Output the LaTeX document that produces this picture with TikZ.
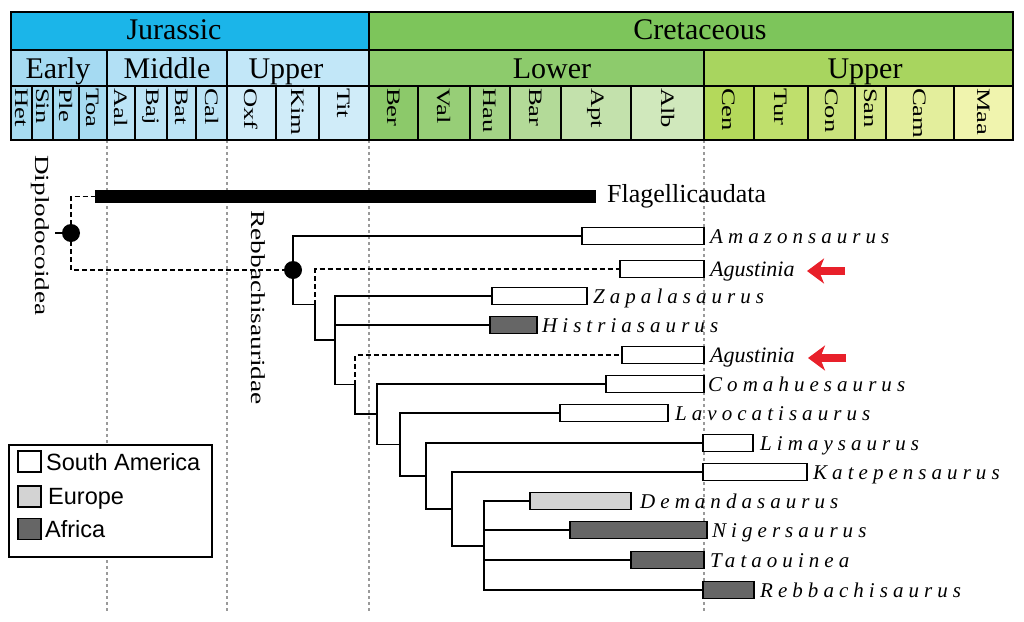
\documentclass[tikz,border=0pt]{standalone}
\usepackage{fontspec}
\usepackage{graphicx}
\setmainfont{Liberation Serif}
\newfontfamily\legendfont{Liberation Sans}
\newfontfamily\taxfont[LetterSpace=24]{Liberation Serif}
\usetikzlibrary{arrows.meta}
\newcommand{\setfs}[1]{\fontsize{#1}{#1}\selectfont}
\newcommand{\stretchtxt}[2]{\scalebox{#1}[1]{#2}}
\definecolor{jur}{HTML}{1BB5E9}
\definecolor{epE}{HTML}{A5DAF2}
\definecolor{epM}{HTML}{B2E0F5}
\definecolor{epU}{HTML}{C2E7F8}
\definecolor{stE}{HTML}{A7DBF1}
\definecolor{stM}{HTML}{BCE4F6}
\definecolor{stU}{HTML}{D0ECF9}
\definecolor{cre}{HTML}{7DC55B}
\definecolor{epL}{HTML}{8DCB6C}
\definecolor{epK}{HTML}{A8D55F}
\definecolor{sBer}{HTML}{8CC96A}
\definecolor{sVal}{HTML}{97CE77}
\definecolor{sHau}{HTML}{A3D386}
\definecolor{sBar}{HTML}{B3DA98}
\definecolor{sApt}{HTML}{C3E1AC}
\definecolor{sAlb}{HTML}{D0E8BC}
\definecolor{sCen}{HTML}{B4D95B}
\definecolor{sTur}{HTML}{BFDF6C}
\definecolor{sCon}{HTML}{CAE37D}
\definecolor{sSan}{HTML}{D5E88C}
\definecolor{sCam}{HTML}{E3EE9C}
\definecolor{sMaa}{HTML}{F0F4AE}
\definecolor{eugray}{HTML}{D3D3D3}
\definecolor{afgray}{HTML}{666666}
\definecolor{arrowred}{HTML}{E8202A}
\definecolor{gridgray}{HTML}{9A9A9A}
\tikzset{
  hdr/.style={draw=black, line width=1.5pt},
  hdrlbl/.style={anchor=base, inner sep=0pt, font=\setfs{30}},
  stagelbl/.style={rotate=-90, anchor=west, inner sep=0pt, font=\setfs{19}},
  cladelbl/.style={rotate=-90, anchor=west, inner sep=0pt, font=\setfs{20}},
  gridline/.style={draw=gridgray, line width=1.5pt, dash pattern=on 3pt off 3pt},
  tree/.style={line width=1.8pt},
  dashline/.style={line width=1.8pt, dash pattern=on 5pt off 3pt},
  rng/.style={draw=black, line width=1.8pt, minimum height=17pt, inner sep=0pt, outer sep=0pt, anchor=west},
  sa/.style={rng, fill=white},
  eu/.style={rng, fill=eugray},
  af/.style={rng, fill=afgray},
  taxlbl/.style={anchor=base west, inner sep=0pt, font=\setfs{21}\taxfont\itshape},
  aguslbl/.style={anchor=base west, inner sep=0pt, font=\setfs{22}\itshape},
  dot/.style={circle, fill=black, minimum size=18pt, inner sep=0pt},
  redarrow/.style={draw=arrowred, line width=8pt, -{Stealth[length=17pt, width=25pt, inset=5pt]}},
  legendtxt/.style={anchor=base west, inner sep=0pt, font=\setfs{23.5}\legendfont},
}
\newcommand{\stg}[5]{%
  \filldraw[hdr, fill=#4] (#2,86) rectangle (#3,140);
  \node[stagelbl] (#1) at ({(#2+#3)/2},88) {\stretchtxt{1.4}{#5}};
}
\begin{document}
\begin{tikzpicture}[x=1pt,y=-1pt]
\useasboundingbox (0,0) rectangle (1024,621);

% grid lines
\foreach \gx/\gn in {107/a,227/b,369/c,704/d}{
  \coordinate (gt\gn) at (\gx,140);
  \coordinate (gb\gn) at (\gx,612);
  \draw[gridline] (gt\gn) -- (gb\gn);
}

% header: periods
\filldraw[hdr, fill=jur] (11,12) rectangle (369,50);
\filldraw[hdr, fill=cre] (369,12) rectangle (1013,50);
\node[hdrlbl] (jurassic) at (174,39) {Jurassic};
\node[hdrlbl] (cretaceous) at (700,39) {Cretaceous};
% epochs
\filldraw[hdr, fill=epE] (11,50) rectangle (107,86);
\filldraw[hdr, fill=epM] (107,50) rectangle (227,86);
\filldraw[hdr, fill=epU] (227,50) rectangle (369,86);
\filldraw[hdr, fill=epL] (369,50) rectangle (704,86);
\filldraw[hdr, fill=epK] (704,50) rectangle (1013,86);
\node[hdrlbl] (early) at (58,78) {Early};
\node[hdrlbl] (middle) at (167,78) {Middle};
\node[hdrlbl] (upperJ) at (286,78) {Upper};
\node[hdrlbl] (lower) at (552,78) {Lower};
\node[hdrlbl] (upperK) at (865,78) {Upper};
% stages
\stg{het}{11}{32}{stE}{Het}
\stg{sin}{32}{53}{stE}{Sin}
\stg{ple}{53}{79}{stE}{Ple}
\stg{toa}{79}{107}{stE}{Toa}
\stg{aal}{107}{135}{stM}{Aal}
\stg{baj}{135}{167}{stM}{Baj}
\stg{bat}{167}{196}{stM}{Bat}
\stg{cal}{196}{227}{stM}{Cal}
\stg{oxf}{227}{276}{stU}{Oxf}
\stg{kim}{276}{319}{stU}{Kim}
\stg{tit}{319}{369}{stU}{Tit}
\stg{ber}{369}{418}{sBer}{Ber}
\stg{val}{418}{470}{sVal}{Val}
\stg{hau}{470}{510}{sHau}{Hau}
\stg{bar}{510}{561}{sBar}{Bar}
\stg{apt}{561}{631}{sApt}{Apt}
\stg{alb}{631}{704}{sAlb}{Alb}
\stg{cen}{704}{754}{sCen}{Cen}
\stg{tur}{754}{808}{sTur}{Tur}
\stg{con}{808}{855}{sCon}{Con}
\stg{san}{855}{886}{sSan}{San}
\stg{cam}{886}{954}{sCam}{Cam}
\stg{maa}{954}{1013}{sMaa}{Maa}

% clade labels
\node[cladelbl] (diplo) at (40,155) {\stretchtxt{1.36}{Diplodocoidea}};
\node[cladelbl] (rebbL) at (258,210) {\stretchtxt{1.37}{Rebbachisauridae}};

% Flagellicaudata bar
\node[fill=black, minimum width=501pt, minimum height=13pt, inner sep=0pt, outer sep=0pt, anchor=west] (flag) at (95,196.5) {};
\node[anchor=base west, inner sep=0pt, font=\setfs{26}] (flagL) at ([xshift=11pt,yshift=-5.5pt]flag.east) {Flagellicaudata};

% range boxes
\node[sa, minimum width=122pt] (amaz) at (582,236) {};
\node[sa, minimum width=84pt]  (agus1) at (620,269) {};
\node[sa, minimum width=95pt]  (zap) at (492,296) {};
\node[af, minimum width=47pt]  (hist) at (490,325) {};
\node[sa, minimum width=82pt]  (agus2) at (622,355) {};
\node[sa, minimum width=98pt]  (coma) at (606,384) {};
\node[sa, minimum width=108pt] (lav) at (560,413) {};
\node[sa, minimum width=50pt]  (lim) at (703,443) {};
\node[sa, minimum width=104pt] (kate) at (703,472) {};
\node[eu, minimum width=101pt] (dem) at (530,501) {};
\node[af, minimum width=137pt] (nig) at (570,530) {};
\node[af, minimum width=73pt]  (tat) at (631,560) {};
\node[af, minimum width=51pt]  (reb) at (703,590) {};

% taxon labels
\node[taxlbl] (amazL) at ([xshift=6pt,yshift=-7pt]amaz.east) {Amazonsaurus};
\node[aguslbl] (agus1L) at ([xshift=6pt,yshift=-7pt]agus1.east) {Agustinia};
\node[taxlbl] (zapL) at ([xshift=6pt,yshift=-7pt]zap.east) {Zapalasaurus};
\node[taxlbl] (histL) at ([xshift=5pt,yshift=-7pt]hist.east) {Histriasaurus};
\node[aguslbl] (agus2L) at ([xshift=6pt,yshift=-7pt]agus2.east) {Agustinia};
\node[taxlbl] (comaL) at ([xshift=4pt,yshift=-7pt]coma.east) {Comahuesaurus};
\node[taxlbl] (lavL) at ([xshift=7pt,yshift=-7pt]lav.east) {Lavocatisaurus};
\node[taxlbl] (limL) at ([xshift=7pt,yshift=-7pt]lim.east) {Limaysaurus};
\node[taxlbl] (kateL) at ([xshift=6pt,yshift=-7pt]kate.east) {Katepensaurus};
\node[taxlbl] (demL) at ([xshift=9pt,yshift=-7pt]dem.east) {Demandasaurus};
\node[taxlbl] (nigL) at ([xshift=5pt,yshift=-7pt]nig.east) {Nigersaurus};
\node[taxlbl] (tatL) at ([xshift=6pt,yshift=-7pt]tat.east) {Tataouinea};
\node[taxlbl] (rebL) at ([xshift=6pt,yshift=-7pt]reb.east) {Rebbachisaurus};

% red arrows
\coordinate (a1s) at (845,271); \coordinate (a1e) at (807,271);
\coordinate (a2s) at (846,358); \coordinate (a2e) at (808,358);
\draw[redarrow] (a1s) -- (a1e);
\draw[redarrow] (a2s) -- (a2e);

% internal nodes
\coordinate (D) at (71,233);
\coordinate (Dtick) at (55,233);
\coordinate (R) at (293,270);
\coordinate (n1) at (315,304.5);
\coordinate (n2) at (335,340);
\coordinate (n3) at (355,384.5);
\coordinate (n4) at (377,414);
\coordinate (n5) at (400,444.5);
\coordinate (n6) at (426,476);
\coordinate (n7) at (452,509);
\coordinate (n8) at (484,546);

% tree
\draw[dashline] (D) |- (flag.west);
\draw[dashline] (D) |- (R);
\draw[tree] (Dtick) -- (D);
\draw[tree] (R) |- (amaz.west);
\draw[tree] (R) |- (n1);
\draw[dashline] (n1) |- (agus1.west);
\draw[tree] (n1) |- (n2);
\draw[tree] (n2) |- (zap.west);
\draw[tree] (n2) |- (hist.west);
\draw[tree] (n2) |- (n3);
\draw[dashline] (n3) |- (agus2.west);
\draw[tree] (n3) |- (n4);
\draw[tree] (n4) |- (coma.west);
\draw[tree] (n4) |- (n5);
\draw[tree] (n5) |- (lav.west);
\draw[tree] (n5) |- (n6);
\draw[tree] (n6) |- (lim.west);
\draw[tree] (n6) |- (n7);
\draw[tree] (n7) |- (kate.west);
\draw[tree] (n7) |- (n8);
\draw[tree] (n8) |- (dem.west);
\draw[tree] (n8) |- (nig.west);
\draw[tree] (n8) |- (tat.west);
\draw[tree] (n8) |- (reb.west);
\node[dot] (Ddot) at (D) {};
\node[dot] (Rdot) at (R) {};

% legend
\node[draw=black, fill=white, line width=1.8pt, minimum width=203pt, minimum height=112pt, inner sep=0pt, anchor=north west] (legend) at (8,444) {};
\node[sa, minimum width=23pt, minimum height=21pt] (lgSA) at (18,461.5) {};
\node[eu, minimum width=23pt, minimum height=21pt] (lgEU) at (18,496.5) {};
\node[af, minimum width=23pt, minimum height=21pt] (lgAF) at (18,529) {};
\node[legendtxt] (lgSAt) at (46,470) {South America};
\node[legendtxt] (lgEUt) at (48,504) {Europe};
\node[legendtxt] (lgAFt) at (45,537) {Africa};
\end{tikzpicture}
\end{document}
